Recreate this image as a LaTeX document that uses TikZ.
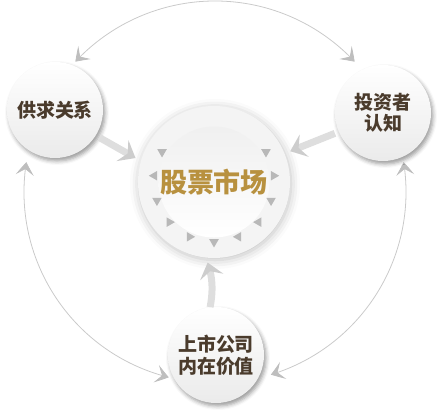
\documentclass[tikz,border=0pt]{standalone}
\usepackage{fontspec}
\newfontfamily\cjk{Noto Sans CJK SC}
\usetikzlibrary{arrows.meta, bending, shapes.geometric, shadows.blur, calc}
\definecolor{cring}{HTML}{F4F4F4}
\definecolor{cline}{HTML}{CACACA}
\definecolor{chead}{HTML}{BEBEBE}
\definecolor{cshaft}{HTML}{DEDEDE}
\definecolor{cpush}{HTML}{CDCDCD}
\definecolor{ctri}{HTML}{B8B8B8}
\definecolor{ctext}{HTML}{4A3B2C}
\definecolor{cgold}{HTML}{B8913F}
\tikzset{
  every picture/.style={x=1pt, y=1pt},
  ball/.style={circle, minimum size=96pt, inner sep=0pt, align=center, top color=white, bottom color=black!8,
    blur shadow={shadow xshift=2pt, shadow yshift=-3pt, shadow blur radius=4pt, shadow opacity=40},
    text=ctext, font=\cjk\bfseries\fontsize{19}{21.5}\selectfont},
  ring/.style={circle, minimum size=152pt, inner sep=0pt, fill=cring,
    blur shadow={shadow xshift=1pt, shadow yshift=-2pt, shadow blur radius=9pt, shadow opacity=25}},
  core/.style={circle, minimum size=106pt, inner sep=0pt, top color=black!6, bottom color=white,
    text=cgold, font=\cjk\bfseries\fontsize{27}{30}\selectfont},
  dart/.style={regular polygon, regular polygon sides=3, minimum size=11pt, inner sep=0pt, fill=ctri},
  orbit/.style={draw=cline, line width=0.8pt,
    {Stealth[length=13pt, width=18pt, inset=6pt, bend, color=chead]}-{Stealth[length=13pt, width=18pt, inset=6pt, bend, color=chead]}},
  push/.style={draw=cshaft, line width=7pt, -{Stealth[length=15pt, width=24pt, inset=6pt, color=cpush]}},
}
\begin{document}
\begin{tikzpicture}
  \useasboundingbox (0,0) rectangle (440,412);
  % outer cycle
  \coordinate (O) at (215,220);
  \foreach \a/\b [count=\i] in {137/43, 171/256, 9/-73} {
    \coordinate (e\i) at ($(O)+(\a:191)$);
    \draw[orbit] (e\i) arc[start angle=\a, end angle=\b, radius=191];
  }
  % market in the middle
  \node[ring] (mk) at (214,230) {};
  \node[core] (mkin) at (214,230) {股票市场};
  \foreach \p/\d [count=\i] in {150/270, 174/180, 198/150, 222/120, 246/0, 270/270, 294/180, 318/60, 342/30, 6/0, 30/270}
    \node[dart, rotate=\d-90] (t\i) at ($(mk)+(\p:60)$) {};
  % the three factors
  \node[ball] (gq) at (55,302) {供求关系};
  \node[ball] (tz) at (383,299) {投资者\\认知};
  \node[ball] (jz) at (216,57) {上市公司\\内在价值};
  \draw[push, shorten <=4pt, shorten >=6pt] (gq.-32) -- (mk.164);
  \draw[push, shorten <=4pt, shorten >=6pt] (tz.203) -- (mk.22);
  \draw[push, shorten >=5pt] (jz.97) to[bend right=15] (mk.264);
\end{tikzpicture}
\end{document}
